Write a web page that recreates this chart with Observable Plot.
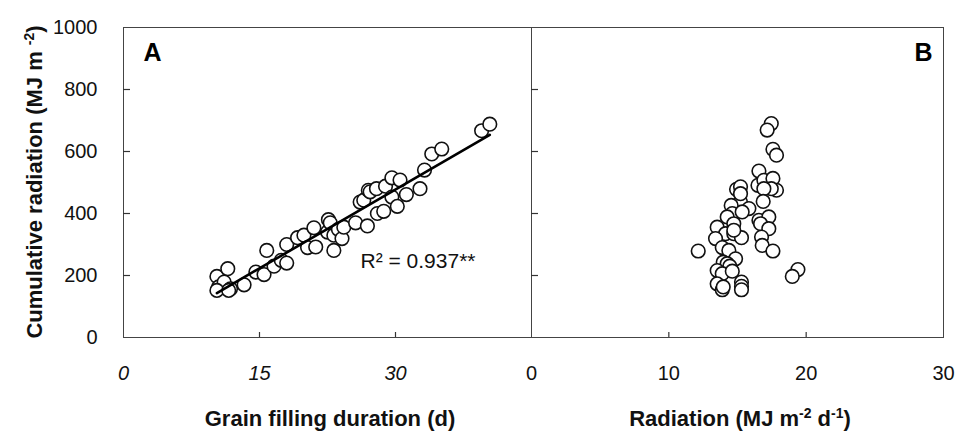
<!DOCTYPE html>
<html><head><meta charset="utf-8">
<script src="https://cdn.jsdelivr.net/npm/d3@7"></script>
<script src="https://cdn.jsdelivr.net/npm/@observablehq/plot@0.6"></script>
<style>
body{margin:0;background:#fff;}
#chart{position:relative;width:955px;height:434px;overflow:hidden;}
#chart svg{position:absolute;top:0;overflow:visible;}
</style></head><body><div id="chart"></div>
<script>
// Panel A: grain filling duration (d) vs cumulative radiation (MJ m-2)
const durationA = [10.3,11.5,10.5,11.1,11.8,10.3,11.6,13.3,14.6,15.5,15.8,16.6,17.4,18.0,18.0,19.2,19.9,20.3,21.0,21.2,22.5,22.6,22.8,23.2,23.2,23.7,24.1,24.3,25.6,26.1,26.5,26.9,27.0,27.2,27.9,28.0,28.7,28.9,29.6,29.6,30.2,30.5,31.2,32.7,33.2,34.0,35.1,39.5,40.4];
const cumRadA   = [197,222,163,179,157,152,152,170,211,203,281,230,249,240,300,322,330,290,354,292,340,380,370,330,281,349,319,356,370,437,443,360,475,470,480,400,407,488,515,453,423,508,461,480,540,592,608,667,688];
// Panel B: radiation (MJ m-2 d-1) vs cumulative radiation (MJ m-2)
const radiationB = [17.46,17.16,17.58,17.84,16.56,16.49,16.92,17.58,17.84,17.46,16.92,16.87,14.93,15.22,15.22,14.54,15.83,14.62,14.25,15.34,16.56,17.28,16.68,17.28,13.52,14.73,14.13,14.73,15.29,13.40,16.75,16.80,17.58,12.14,13.89,14.37,14.86,13.96,14.25,14.44,13.52,13.89,14.62,13.52,13.89,13.96,15.29,15.29,15.29,19.40,18.99,14.73,15.22];
const cumRadB    = [690,669,607,588,537,491,507,513,475,480,480,439,478,486,437,426,416,400,389,405,378,389,367,351,356,367,335,335,322,319,324,297,279,279,290,281,254,243,238,230,216,206,214,173,154,163,179,165,154,219,197,346,464];

const yTicks = [0,200,400,600,800,1000];
const xTicksA = [0,15,30];
const xTicksB = [0,10,20,30];
const r2Label = ["R² = 0.937**"];

const font = "'Liberation Sans', Arial, sans-serif";
const H = 434, mTop = 27, mBottom = 97;
const innerH = H - mTop - mBottom;
const fmt = d => String(d);
const ptsA = durationA.map((d,i)=>({x:d, y:cumRadA[i]}));
const ptsB = radiationB.map((d,i)=>({x:d, y:cumRadB[i]}));
const dotStyle = {r:6.8, fill:"#fff", stroke:"#111", strokeWidth:1.6};

// inward tick marks: short ticks hugging the left / bottom frame edges
const yInTicks = (vals, innerW) => Plot.tickY(vals, {y: d => d, insetRight: innerW - 7, stroke: "#333", strokeWidth: 1.2});
const xInTicks = (vals) => Plot.tickX(vals, {x: d => d, insetTop: innerH - 5, stroke: "#333", strokeWidth: 1.2});

const wA = 531, mLA = 123;
const A = Plot.plot({
  width: wA, height: H, marginLeft: mLA, marginRight: 0, marginTop: mTop, marginBottom: mBottom,
  style: {fontFamily: font, overflow: "visible", background: "transparent"},
  x: {domain: [0,45]}, y: {domain: [0,1000]},
  marks: [
    Plot.frame({stroke:"#444", strokeWidth:1}),
    Plot.axisY(yTicks, {tickSize:0, tickPadding:26, fontSize:20, fill:"#111", tickFormat:fmt, label:null}),
    yInTicks(yTicks.slice(1,-1), wA - mLA),
    Plot.axisX(xTicksA, {tickSize:0, tickPadding:28, fontSize:20, fontStyle:"italic", fill:"#111", tickFormat:fmt, label:null}),
    xInTicks(xTicksA.slice(1)),
    Plot.dot(ptsA, {x:"x", y:"y", ...dotStyle}),
    Plot.linearRegressionY(ptsA, {x:"x", y:"y", ci:0, stroke:"#000", strokeWidth:2.6}),
    Plot.text(r2Label, {frameAnchor:"bottom-left", textAnchor:"start", lineAnchor:"bottom", dx:237, dy:-70, fontSize:21, fill:"#111"}),
    Plot.text(["A"], {frameAnchor:"top-left", textAnchor:"start", lineAnchor:"top", dx:20, dy:16, fontSize:25, fontWeight:"bold", fill:"#000"})
  ]
});

const wB = 424, mRB = 12;
const B = Plot.plot({
  width: wB, height: H, marginLeft: 0, marginRight: mRB, marginTop: mTop, marginBottom: mBottom,
  style: {fontFamily: font, overflow: "visible", background: "transparent"},
  x: {domain: [0,30]}, y: {domain: [0,1000], axis: null},
  marks: [
    Plot.frame({stroke:"#444", strokeWidth:1}),
    yInTicks(yTicks.slice(1,-1), wB - mRB),
    Plot.axisX(xTicksB, {tickSize:0, tickPadding:28, fontSize:20, fill:"#111", tickFormat:fmt, label:null}),
    xInTicks(xTicksB.slice(1,-1)),
    Plot.dot(ptsB, {x:"x", y:"y", ...dotStyle}),
    Plot.text(["B"], {frameAnchor:"top-right", textAnchor:"end", lineAnchor:"top", dx:-11, dy:16, fontSize:25, fontWeight:"bold", fill:"#000"})
  ]
});

const chart = document.getElementById("chart");
A.style.left = "0px";
B.style.left = "531px";
chart.appendChild(A);
chart.appendChild(B);

// Axis titles (with superscripts)
const ov = d3.select(chart).append("svg")
  .attr("width", 955).attr("height", H)
  .style("left","0px").style("pointer-events","none")
  .style("font-family", font).style("font-weight","bold").style("font-size","22px");

const yt = ov.append("text").attr("transform","translate(42,182) rotate(-90)")
  .attr("text-anchor","middle").attr("fill","#111");
yt.append("tspan").text("Cumulative radiation (MJ m ");
yt.append("tspan").attr("dy","-8").style("font-size","14px").text("-2");
yt.append("tspan").attr("dy","8").text(")");

ov.append("text").attr("x",330).attr("y",426).attr("text-anchor","middle").attr("fill","#111")
  .text("Grain filling duration (d)");

const xt = ov.append("text").attr("x",740).attr("y",426).attr("text-anchor","middle").attr("fill","#111");
xt.append("tspan").text("Radiation (MJ m");
xt.append("tspan").attr("dy","-8").style("font-size","14px").text("-2");
xt.append("tspan").attr("dy","8").text(" d");
xt.append("tspan").attr("dy","-8").style("font-size","14px").text("-1");
xt.append("tspan").attr("dy","8").text(")");
</script>
</body></html>
